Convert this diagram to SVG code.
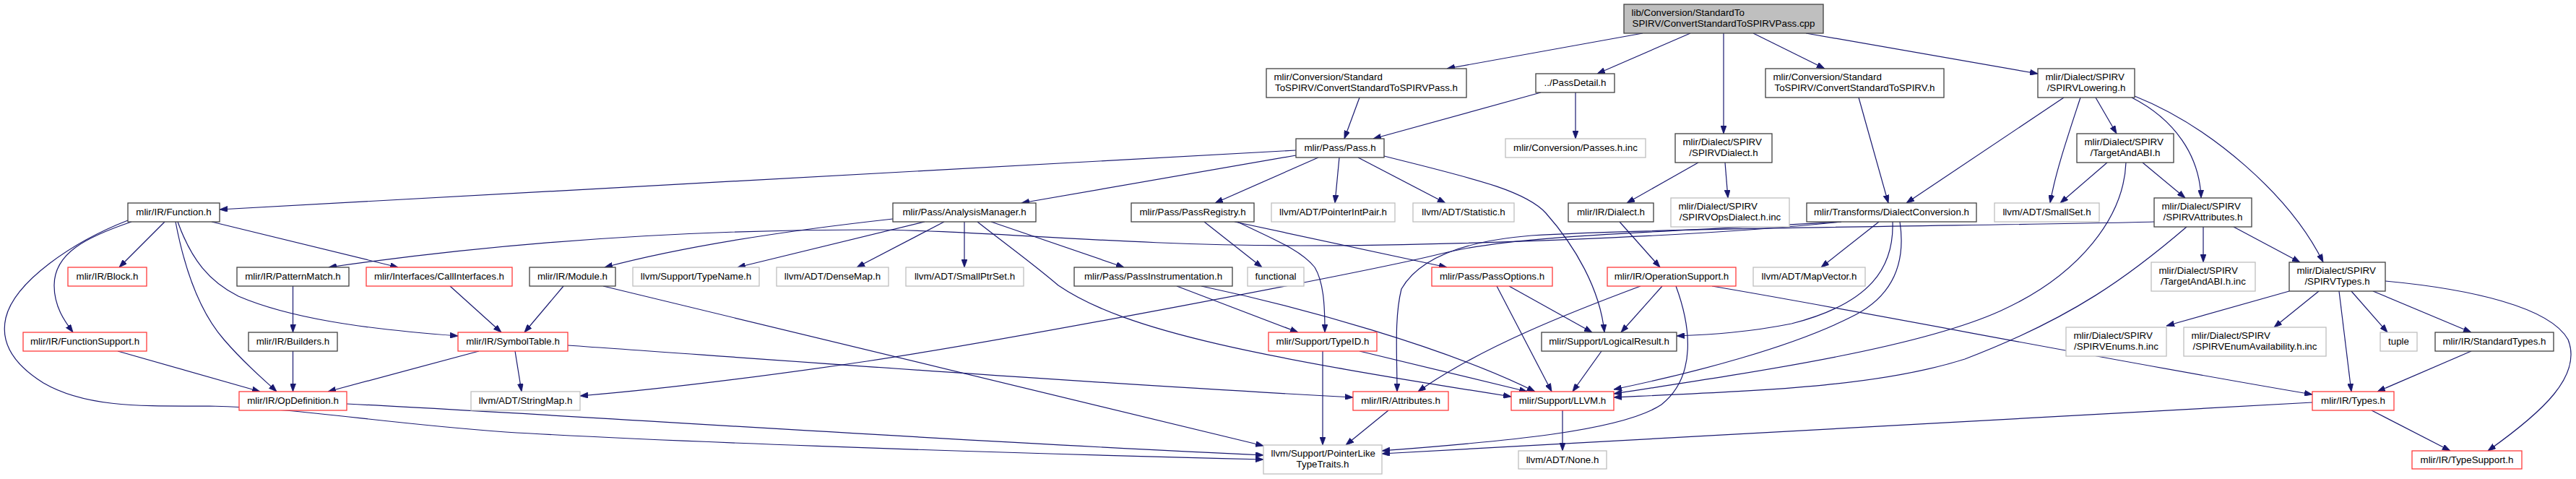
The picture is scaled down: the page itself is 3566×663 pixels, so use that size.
<svg xmlns="http://www.w3.org/2000/svg" width="3566" height="663" viewBox="0 0 3566 663">
<style>
.e path{fill:none;stroke:#191970;stroke-width:1.2;marker-end:url(#ah)}
.n rect{fill:#fff;stroke-width:1.3}
.b rect{stroke:#404040}
.r rect{stroke:#ff3b3b}
.g rect{stroke:#bfbfbf}
.root rect{fill:#bfbfbf;stroke:#404040}
text{font-family:"Liberation Sans",Arial,Helvetica,sans-serif;font-size:13.33px;fill:#000}
.c{text-anchor:middle}
</style>
<defs>
<marker id="ah" viewBox="0 0 11 8" refX="11" refY="4" markerWidth="11" markerHeight="8" markerUnits="userSpaceOnUse" orient="auto">
<path d="M0,0 L11,4 L0,8 z" fill="#191970" stroke="#191970" stroke-width="0.8"/>
</marker>
</defs>
<rect x="0" y="0" width="3566" height="663" fill="#fff"/>
<g id="edges" class="e">
<path d="M2274,46 L2003,95"/>
<path d="M2340,46 L2211,102"/>
<path d="M2386,46 L2386,185"/>
<path d="M2427,46 L2526,95"/>
<path d="M2500,46 L2821,102"/>
<path d="M1882,135 L1861,192"/>
<path d="M2133,128 L1901,192"/>
<path d="M2181,128 L2181,192"/>
<path d="M2573,135 L2614,281"/>
<path d="M2857,135 L2639,281"/>
<path d="M2880,135 C2862,190 2845,240 2838,281"/>
<path d="M2901,135 L2930,185"/>
<path d="M2951,135 C3010,165 3045,215 3047,274"/>
<path d="M2955,133 C3060,175 3170,270 3216,363"/>
<path d="M2351,225 L2252,281"/>
<path d="M2388,225 L2392,274"/>
<path d="M2917,225 L2852,281"/>
<path d="M2966,225 L3025,274"/>
<path d="M2943,225 C2940,300 2880,380 2770,430 C2660,480 2450,512 2234,545"/>
<path d="M1794,208 L304,290"/>
<path d="M1794,215 L1414,281"/>
<path d="M1825,218 L1682,281"/>
<path d="M1854,218 L1848,281"/>
<path d="M1880,218 L2001,281"/>
<path d="M1916,216 C2030,245 2110,262 2140,295 C2180,340 2215,400 2221,460"/>
<path d="M228,307 L165,370"/>
<path d="M182,307 C120,328 75,350 75,395 C75,425 90,445 101,460"/>
<path d="M177,305 C100,335 20,390 8,440 C0,475 20,505 60,530 C120,565 200,562 290,562 C420,565 520,585 700,598 C900,610 1300,625 1749,636"/>
<path d="M243,307 C255,370 275,430 310,470 C340,505 365,525 383,542"/>
<path d="M246,307 C265,360 290,390 330,410 C400,440 500,455 634,465"/>
<path d="M293,307 L551,370"/>
<path d="M163,486 L360,542"/>
<path d="M405.5,396 L405.5,460"/>
<path d="M405.5,486 L405.5,542"/>
<path d="M663,486 L454,542"/>
<path d="M623,396 L694,460"/>
<path d="M780,396 L726,460"/>
<path d="M835,396 L1749,617"/>
<path d="M713,486 L722,542"/>
<path d="M786,478 C1100,500 1500,530 1873,550"/>
<path d="M480,559 C800,575 1300,610 1749,630"/>
<path d="M1307,307 L1186,370"/>
<path d="M1335,307 L1335,370"/>
<path d="M1372,307 L1556,370"/>
<path d="M1353,307 C1395,340 1430,365 1465,395 C1560,460 1750,495 2092,549"/>
<path d="M1236,303 C1100,318 950,340 837,370"/>
<path d="M1280,307 L1021,370"/>
<path d="M1667,307 L1747,370"/>
<path d="M1709,307 L2003,370"/>
<path d="M1713,307 C1760,330 1800,345 1820,370 C1832,390 1834,420 1834,460"/>
<path d="M1629,396 L1797,460"/>
<path d="M1663,396 C1800,425 2000,480 2125,542"/>
<path d="M2072,396 L2148,542"/>
<path d="M2089,396 L2204,460"/>
<path d="M2301,396 L2244,460"/>
<path d="M2271,396 C2180,430 2050,480 1963,542"/>
<path d="M2320,396 C2340,450 2350,520 2300,560 C2240,600 2050,613 1913,624"/>
<path d="M2370,396 C2600,435 2900,495 3201,546"/>
<path d="M2242,307 L2298,370"/>
<path d="M1922,568 L1863,616"/>
<path d="M2217,486 L2177,542"/>
<path d="M1831,486 L1831,616"/>
<path d="M1882,486 L2114,542"/>
<path d="M2163,568 L2163,624"/>
<path d="M3201,557 L1913,628"/>
<path d="M3283,568 L3392,624"/>
<path d="M3169,403 L2999,451"/>
<path d="M3210,403 L3148,453"/>
<path d="M3238,403 L3255,542"/>
<path d="M3255,403 L3305,460"/>
<path d="M3285,403 L3421,460"/>
<path d="M3302,389 C3420,400 3530,425 3555,470 C3575,520 3520,570 3444,624"/>
<path d="M3421,486 L3291,542"/>
<path d="M3050,314 L3050,363"/>
<path d="M3092,314 L3184,363"/>
<path d="M3027,314 C2950,380 2870,440 2720,497 C2600,535 2450,540 2234,550"/>
<path d="M2982,307 C2800,312 2300,315 2120,326 C2010,335 1960,365 1940,400 C1930,440 1934,490 1934,542"/>
<path d="M2549,307 C2300,322 2100,325 2000,350 C1900,375 1400,470 1200,500 C1050,522 900,540 803,548"/>
<path d="M2549,307 C2350,328 2000,340 1800,340 C1550,340 1350,318 1200,318 C950,318 700,335 455,370"/>
<path d="M2601,307 L2521,370"/>
<path d="M2620,307 C2622,370 2590,420 2480,448 C2420,460 2370,463 2321,465"/>
<path d="M2630,307 C2638,360 2625,410 2560,440 C2480,480 2350,515 2234,539"/>
</g>
<g id="n-root" class="n root"><rect x="2248" y="6" width="276" height="40"/><text x="2258.5" y="22.4">lib/Conversion/StandardTo</text><text class="c" x="2386" y="37.4">SPIRV/ConvertStandardToSPIRVPass.cpp</text></g>
<g id="n-convpass" class="n b"><rect x="1753" y="95" width="277" height="40"/><text x="1763.5" y="111.4">mlir/Conversion/Standard</text><text class="c" x="1891.5" y="126.4">ToSPIRV/ConvertStandardToSPIRVPass.h</text></g>
<g id="n-passdetail" class="n b"><rect x="2126" y="102" width="109" height="26"/><text class="c" x="2180.5" y="118.5">../PassDetail.h</text></g>
<g id="n-convstd" class="n b"><rect x="2444" y="95" width="247" height="40"/><text x="2454.5" y="111.4">mlir/Conversion/Standard</text><text class="c" x="2567.5" y="126.4">ToSPIRV/ConvertStandardToSPIRV.h</text></g>
<g id="n-lowering" class="n b"><rect x="2821" y="95" width="134" height="40"/><text x="2831.5" y="111.4">mlir/Dialect/SPIRV</text><text class="c" x="2888" y="126.4">/SPIRVLowering.h</text></g>
<g id="n-pass" class="n b"><rect x="1794" y="192" width="122" height="26"/><text class="c" x="1855" y="208.5">mlir/Pass/Pass.h</text></g>
<g id="n-passesinc" class="n g"><rect x="2084" y="192" width="194" height="26"/><text class="c" x="2181" y="208.5">mlir/Conversion/Passes.h.inc</text></g>
<g id="n-spirvdialect" class="n b"><rect x="2319" y="185" width="134" height="40"/><text x="2329.5" y="201.4">mlir/Dialect/SPIRV</text><text class="c" x="2386" y="216.4">/SPIRVDialect.h</text></g>
<g id="n-target" class="n b"><rect x="2875" y="185" width="134" height="40"/><text x="2885.5" y="201.4">mlir/Dialect/SPIRV</text><text class="c" x="2942" y="216.4">/TargetAndABI.h</text></g>
<g id="n-function" class="n b"><rect x="177" y="281" width="127" height="26"/><text class="c" x="240.5" y="297.5">mlir/IR/Function.h</text></g>
<g id="n-analysis" class="n b"><rect x="1236" y="281" width="198" height="26"/><text class="c" x="1335" y="297.5">mlir/Pass/AnalysisManager.h</text></g>
<g id="n-registry" class="n b"><rect x="1566" y="281" width="170" height="26"/><text class="c" x="1651" y="297.5">mlir/Pass/PassRegistry.h</text></g>
<g id="n-pointerint" class="n g"><rect x="1760" y="281" width="171" height="26"/><text class="c" x="1845.5" y="297.5">llvm/ADT/PointerIntPair.h</text></g>
<g id="n-statistic" class="n g"><rect x="1956" y="281" width="140" height="26"/><text class="c" x="2026" y="297.5">llvm/ADT/Statistic.h</text></g>
<g id="n-dialect" class="n b"><rect x="2171" y="281" width="118" height="26"/><text class="c" x="2230" y="297.5">mlir/IR/Dialect.h</text></g>
<g id="n-opsdialectinc" class="n g"><rect x="2313" y="274" width="164" height="40"/><text x="2323.5" y="290.4">mlir/Dialect/SPIRV</text><text class="c" x="2395" y="305.4">/SPIRVOpsDialect.h.inc</text></g>
<g id="n-dialectconv" class="n b"><rect x="2501" y="281" width="235" height="26"/><text class="c" x="2618.5" y="297.5">mlir/Transforms/DialectConversion.h</text></g>
<g id="n-smallset" class="n g"><rect x="2761" y="281" width="145" height="26"/><text class="c" x="2833.5" y="297.5">llvm/ADT/SmallSet.h</text></g>
<g id="n-attrs" class="n b"><rect x="2982" y="274" width="135" height="40"/><text x="2992.5" y="290.4">mlir/Dialect/SPIRV</text><text class="c" x="3049.5" y="305.4">/SPIRVAttributes.h</text></g>
<g id="n-block" class="n r"><rect x="94" y="370" width="109" height="26"/><text class="c" x="148.5" y="386.5">mlir/IR/Block.h</text></g>
<g id="n-pattern" class="n b"><rect x="328" y="370" width="155" height="26"/><text class="c" x="405.5" y="386.5">mlir/IR/PatternMatch.h</text></g>
<g id="n-callif" class="n r"><rect x="507" y="370" width="202" height="26"/><text class="c" x="608" y="386.5">mlir/Interfaces/CallInterfaces.h</text></g>
<g id="n-module" class="n b"><rect x="733" y="370" width="119" height="26"/><text class="c" x="792.5" y="386.5">mlir/IR/Module.h</text></g>
<g id="n-typename" class="n g"><rect x="876" y="370" width="175" height="26"/><text class="c" x="963.5" y="386.5">llvm/Support/TypeName.h</text></g>
<g id="n-densemap" class="n g"><rect x="1075" y="370" width="155" height="26"/><text class="c" x="1152.5" y="386.5">llvm/ADT/DenseMap.h</text></g>
<g id="n-smallptr" class="n g"><rect x="1254" y="370" width="163" height="26"/><text class="c" x="1335.5" y="386.5">llvm/ADT/SmallPtrSet.h</text></g>
<g id="n-instr" class="n b"><rect x="1487" y="370" width="219" height="26"/><text class="c" x="1596.5" y="386.5">mlir/Pass/PassInstrumentation.h</text></g>
<g id="n-functional" class="n g"><rect x="1727" y="370" width="78" height="26"/><text class="c" x="1766" y="386.5">functional</text></g>
<g id="n-passoptions" class="n r"><rect x="1982" y="370" width="167" height="26"/><text class="c" x="2065.5" y="386.5">mlir/Pass/PassOptions.h</text></g>
<g id="n-opsupport" class="n r"><rect x="2225" y="370" width="178" height="26"/><text class="c" x="2314" y="386.5">mlir/IR/OperationSupport.h</text></g>
<g id="n-mapvector" class="n g"><rect x="2427" y="370" width="155" height="26"/><text class="c" x="2504.5" y="386.5">llvm/ADT/MapVector.h</text></g>
<g id="n-targetinc" class="n g"><rect x="2978" y="363" width="144" height="40"/><text x="2988.5" y="379.4">mlir/Dialect/SPIRV</text><text class="c" x="3050" y="394.4">/TargetAndABI.h.inc</text></g>
<g id="n-spirvtypes" class="n b"><rect x="3169" y="363" width="133" height="40"/><text x="3179.5" y="379.4">mlir/Dialect/SPIRV</text><text class="c" x="3235.5" y="394.4">/SPIRVTypes.h</text></g>
<g id="n-funcsupport" class="n r"><rect x="32" y="460" width="171" height="26"/><text class="c" x="117.5" y="476.5">mlir/IR/FunctionSupport.h</text></g>
<g id="n-builders" class="n b"><rect x="344" y="460" width="123" height="26"/><text class="c" x="405.5" y="476.5">mlir/IR/Builders.h</text></g>
<g id="n-symtable" class="n r"><rect x="634" y="460" width="152" height="26"/><text class="c" x="710" y="476.5">mlir/IR/SymbolTable.h</text></g>
<g id="n-typeid" class="n r"><rect x="1756" y="460" width="150" height="26"/><text class="c" x="1831" y="476.5">mlir/Support/TypeID.h</text></g>
<g id="n-logical" class="n b"><rect x="2134" y="460" width="187" height="26"/><text class="c" x="2227.5" y="476.5">mlir/Support/LogicalResult.h</text></g>
<g id="n-enumsinc" class="n g"><rect x="2860" y="453" width="139" height="40"/><text x="2870.5" y="469.4">mlir/Dialect/SPIRV</text><text class="c" x="2929.5" y="484.4">/SPIRVEnums.h.inc</text></g>
<g id="n-enumavail" class="n g"><rect x="3023" y="453" width="197" height="40"/><text x="3033.5" y="469.4">mlir/Dialect/SPIRV</text><text class="c" x="3121.5" y="484.4">/SPIRVEnumAvailability.h.inc</text></g>
<g id="n-tuple" class="n g"><rect x="3295" y="460" width="51" height="26"/><text class="c" x="3320.5" y="476.5">tuple</text></g>
<g id="n-stdtypes" class="n b"><rect x="3371" y="460" width="164" height="26"/><text class="c" x="3453" y="476.5">mlir/IR/StandardTypes.h</text></g>
<g id="n-opdef" class="n r"><rect x="331" y="542" width="149" height="26"/><text class="c" x="405.5" y="558.5">mlir/IR/OpDefinition.h</text></g>
<g id="n-stringmap" class="n g"><rect x="652" y="542" width="151" height="26"/><text class="c" x="727.5" y="558.5">llvm/ADT/StringMap.h</text></g>
<g id="n-attributes" class="n r"><rect x="1873" y="542" width="132" height="26"/><text class="c" x="1939" y="558.5">mlir/IR/Attributes.h</text></g>
<g id="n-llvm" class="n r"><rect x="2092" y="542" width="142" height="26"/><text class="c" x="2163" y="558.5">mlir/Support/LLVM.h</text></g>
<g id="n-types" class="n r"><rect x="3201" y="542" width="113" height="26"/><text class="c" x="3257.5" y="558.5">mlir/IR/Types.h</text></g>
<g id="n-ptrlike" class="n g"><rect x="1749" y="616" width="164" height="40"/><text x="1759.5" y="632.4">llvm/Support/PointerLike</text><text class="c" x="1831" y="647.4">TypeTraits.h</text></g>
<g id="n-none" class="n g"><rect x="2102" y="624" width="122" height="25"/><text class="c" x="2163" y="640.5">llvm/ADT/None.h</text></g>
<g id="n-typesupport" class="n r"><rect x="3339" y="624" width="152" height="25"/><text class="c" x="3415" y="640.5">mlir/IR/TypeSupport.h</text></g>
</svg>
